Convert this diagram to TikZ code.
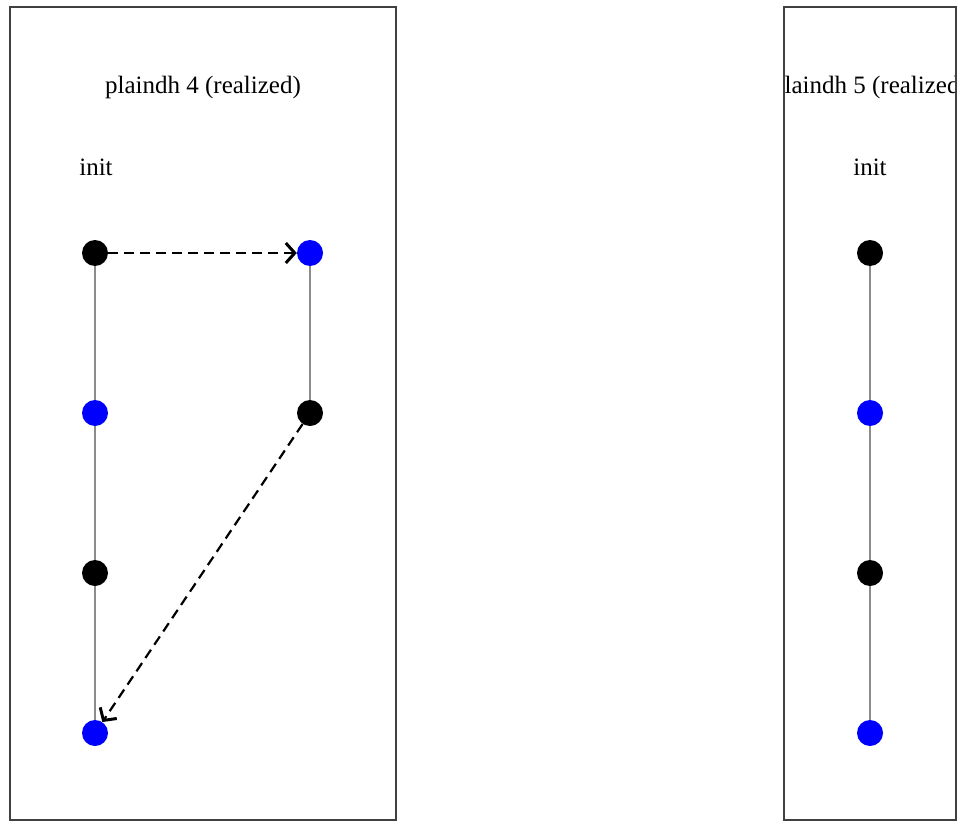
\documentclass[tikz,border=0pt]{standalone}
\usepackage{fontspec}
\setmainfont{Liberation Serif}
\usetikzlibrary{arrows.meta}
\colorlet{myblue}{blue}
\colorlet{mygray}{black!45}
\colorlet{myframe}{black!75}

\begin{document}
\begin{tikzpicture}[x=1pt,y=-1pt]
\tikzset{VertexDark/.style ={circle,fill=black,minimum size=26pt,inner sep=0}}
\tikzset{VertexBlue/.style ={circle,fill=myblue,minimum size=26pt,inner sep=0}}
\tikzset{EdgeStyle/.style ={color=mygray,line width=1.3pt}}
\tikzset{MoveStyle/.style ={dash pattern=on 10pt off 6pt,line width=2.2pt,-{Straight Barb[length=9pt,width=20pt,line width=3pt]}}}
\tikzset{PanelStyle/.style ={draw=myframe,line width=1.2pt}}
\tikzset{LabelStyle/.style ={font=\fontsize{25}{30}\selectfont}}
\useasboundingbox (0,0) rectangle (960,821);
% plaindh 4
\draw[PanelStyle] (10,7) rectangle (396,820);
\node[LabelStyle] (title4) at (203,87) {plaindh 4 (realized)};
\node[LabelStyle] (init4) at (96,167) {init};
\node[VertexDark] (A1) at (95,253) {};
\node[VertexBlue] (A2) at (95,413) {};
\node[VertexDark] (A3) at (95,573) {};
\node[VertexBlue] (A4) at (95,733) {};
\node[VertexBlue] (B1) at (310,253) {};
\node[VertexDark] (B2) at (310,413) {};
\draw[EdgeStyle] (A1) -- (A2) -- (A3) -- (A4);
\draw[EdgeStyle] (B1) -- (B2);
\draw[MoveStyle] (A1) -- (B1);
\draw[MoveStyle] (B2) -- (A4);
% plaindh 5
\begin{scope}
\clip (784,7) rectangle (956,820);
\node[LabelStyle] (title5) at (870,87) {plaindh 5 (realized)};
\end{scope}
\draw[PanelStyle] (784,7) rectangle (956,820);
\node[LabelStyle] (init5) at (870,167) {init};
\node[VertexDark] (C1) at (870,253) {};
\node[VertexBlue] (C2) at (870,413) {};
\node[VertexDark] (C3) at (870,573) {};
\node[VertexBlue] (C4) at (870,733) {};
\draw[EdgeStyle] (C1) -- (C2) -- (C3) -- (C4);
\end{tikzpicture}
\end{document}
